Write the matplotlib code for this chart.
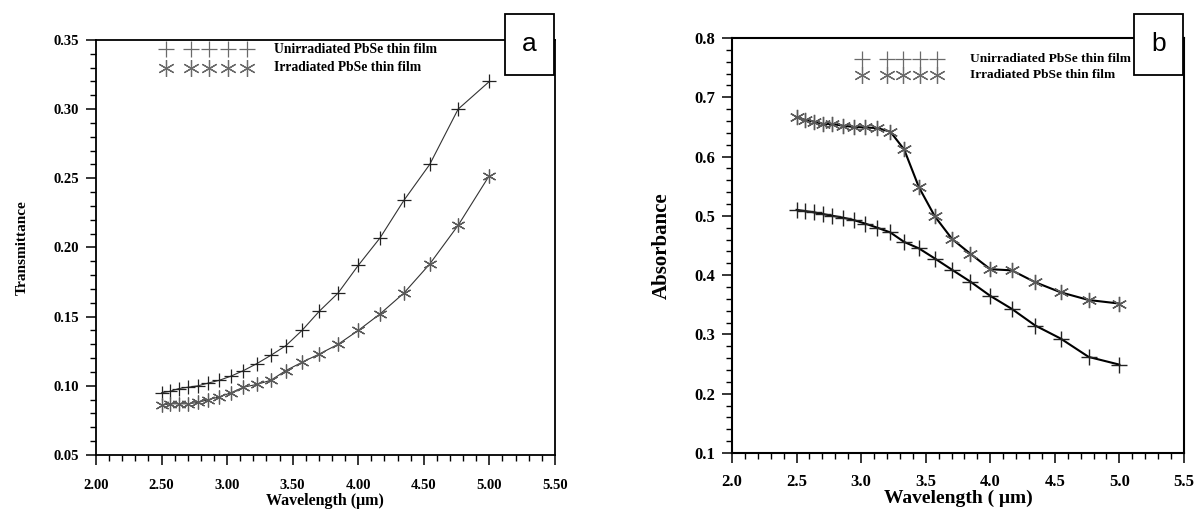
import matplotlib

matplotlib.use("Agg")
import matplotlib.pyplot as plt
from matplotlib.patches import Rectangle
from matplotlib.ticker import MultipleLocator, FormatStrFormatter

# wavelength grid (um), same for every series
wavelength = [2.500, 2.564, 2.632, 2.703, 2.778, 2.857, 2.941, 3.030, 3.125, 3.226, 3.333,
              3.448, 3.571, 3.704, 3.846, 4.000, 4.167, 4.348, 4.545, 4.762, 5.000]

# panel a: transmittance
trans_unirr = [0.095, 0.096, 0.098, 0.099, 0.100, 0.102, 0.104, 0.107, 0.111, 0.116, 0.122,
               0.129, 0.140, 0.154, 0.167, 0.187, 0.207, 0.234, 0.260, 0.300, 0.320]
trans_irr = [0.086, 0.087, 0.087, 0.087, 0.088, 0.090, 0.092, 0.095, 0.099, 0.101, 0.104,
             0.111, 0.117, 0.123, 0.130, 0.140, 0.152, 0.167, 0.188, 0.216, 0.252]

# panel b: absorbance
abs_unirr = [0.510, 0.508, 0.506, 0.503, 0.500, 0.497, 0.493, 0.487, 0.480, 0.472, 0.456,
             0.445, 0.428, 0.409, 0.389, 0.365, 0.343, 0.315, 0.293, 0.262, 0.249]
abs_irr = [0.666, 0.662, 0.659, 0.655, 0.655, 0.652, 0.650, 0.649, 0.648, 0.642, 0.612,
           0.548, 0.499, 0.461, 0.436, 0.410, 0.408, 0.388, 0.371, 0.358, 0.352]

legend_labels = ["Unirradiated PbSe thin film", "Irradiated PbSe thin film"]
panel_tags = ["a", "b"]

SERIF = ["Liberation Serif", "DejaVu Serif"]
ASTERISK = (6, 2, 0)
MARKER_GRAY = "#5a5a5a"

fig = plt.figure(figsize=(11.98, 5.13), dpi=100)


def style_axes(ax, xlim, ylim, ymajor, yminor, xfmt, yfmt, tick_size, spine_w, xpad):
    ax.set_xlim(*xlim)
    ax.set_ylim(*ylim)
    ax.xaxis.set_major_locator(MultipleLocator(0.5))
    ax.xaxis.set_minor_locator(MultipleLocator(0.1))
    ax.yaxis.set_major_locator(MultipleLocator(ymajor))
    ax.yaxis.set_minor_locator(MultipleLocator(yminor))
    ax.xaxis.set_major_formatter(FormatStrFormatter(xfmt))
    ax.yaxis.set_major_formatter(FormatStrFormatter(yfmt))
    ax.tick_params(which="major", direction="out", length=7, width=1.1)
    ax.tick_params(which="minor", direction="out", length=4, width=1.0)
    ax.tick_params(axis="x", which="major", pad=xpad)
    ax.tick_params(axis="y", which="major", pad=5)
    ax.tick_params(top=False, right=False, which="both")
    for spine in ax.spines.values():
        spine.set_linewidth(spine_w)
    for lab in ax.get_xticklabels() + ax.get_yticklabels():
        lab.set_fontfamily(SERIF)
        lab.set_fontweight("bold")
        lab.set_fontsize(tick_size)


def draw_legend(ax, xs, text_x, rows_y, msize, fsize):
    for marker, y, label in zip(["+", ASTERISK], rows_y, legend_labels):
        ax.plot(xs, [y] * len(xs), linestyle="none", marker=marker, markersize=msize,
                markeredgecolor="#6a6a6a", markeredgewidth=0.9, transform=ax.transAxes,
                clip_on=False)
        ax.text(text_x, y, label, transform=ax.transAxes, va="center", ha="left",
                family=SERIF, fontweight="bold", fontsize=fsize)


def tag_box(x0, tag):
    fig.add_artist(Rectangle((x0, 0.854), 0.041, 0.119, transform=fig.transFigure,
                             facecolor="white", edgecolor="black", linewidth=1.3, zorder=10))
    fig.text(x0 + 0.0205, 0.915, tag, ha="center", va="center", fontsize=19,
             family=["Liberation Sans", "DejaVu Sans"], zorder=11)


# ---- panel a ----
ax_a = fig.add_axes([0.0801, 0.1131, 0.3831, 0.809])
ax_a.plot(wavelength, trans_unirr, color="#333333", linewidth=0.8, marker="+",
          markersize=10, markeredgecolor="#222222", markeredgewidth=0.9)
ax_a.plot(wavelength, trans_irr, color="#333333", linewidth=0.8, marker=ASTERISK,
          markersize=10, markeredgecolor=MARKER_GRAY, markeredgewidth=0.9)
style_axes(ax_a, (2.0, 5.5), (0.05, 0.35), 0.05, 0.01, "%.2f", "%.2f", 10.5, 1.3, 10)
ax_a.set_xlabel("Wavelength (\u03bcm)", family=SERIF, fontweight="bold",
                fontsize=11.5, labelpad=1)
ax_a.set_ylabel("Transmittance", family=SERIF, fontweight="bold", fontsize=11,
                labelpad=18)
draw_legend(ax_a, [0.153, 0.207, 0.246, 0.288, 0.329], 0.388, [0.978, 0.933], 12, 9.8)
tag_box(0.4215, panel_tags[0])

# ---- panel b ----
ax_b = fig.add_axes([0.611, 0.117, 0.3773, 0.809])
ax_b.plot(wavelength, abs_unirr, color="black", linewidth=1.5, marker="+",
          markersize=11, markeredgecolor="#222222", markeredgewidth=1.0)
ax_b.plot(wavelength, abs_irr, color="black", linewidth=1.5, marker=ASTERISK,
          markersize=11, markeredgecolor=MARKER_GRAY, markeredgewidth=1.0)
style_axes(ax_b, (2.0, 5.5), (0.1, 0.8), 0.1, 0.02, "%.1f", "%.1f", 12, 1.5, 8)
ax_b.set_xlabel("Wavelength ( \u03bcm)", family=SERIF, fontweight="bold", fontsize=14,
                labelpad=0)
ax_b.set_ylabel("Absorbance", family=SERIF, fontweight="bold", fontsize=15, labelpad=16)
draw_legend(ax_b, [0.288, 0.343, 0.378, 0.416, 0.454], 0.527, [0.949, 0.911], 12, 9.6)
tag_box(0.9466, panel_tags[1])

fig.savefig("out.png", dpi=100)
